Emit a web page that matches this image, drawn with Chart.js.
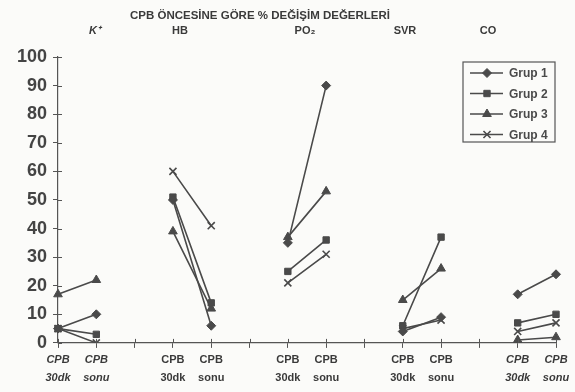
<!DOCTYPE html>
<html>
<head>
<meta charset="utf-8">
<script src="https://cdn.jsdelivr.net/npm/chart.js@4.4.1/dist/chart.umd.min.js"></script>
<style>
  html, body { margin: 0; padding: 0; background: #fbfbf9; }
  #wrap { width: 575px; height: 392px; }
</style>
</head>
<body>
<div id="wrap"><canvas id="myChart"></canvas></div>
<script>
// categories: 5 parameter groups, two time points each, empty slot between groups
var labels = [
  ['CPB', '30dk'], ['CPB', 'sonu'], '',
  ['CPB', '30dk'], ['CPB', 'sonu'], '',
  ['CPB', '30dk'], ['CPB', 'sonu'], '',
  ['CPB', '30dk'], ['CPB', 'sonu'], '',
  ['CPB', '30dk'], ['CPB', 'sonu']
];
var groupNames = ['K\u207A', 'HB', 'PO\u2082', 'SVR', 'CO'];
var yTicks = [0, 10, 20, 30, 40, 50, 60, 70, 80, 90, 100];

//            K+         HB            PO2           SVR          CO
var grup1 = [5, 10, null, 50, 6, null, 35, 90, null, 4, 9, null, 17, 24];
var grup2 = [5, 3, null, 51, 14, null, 25, 36, null, 6, 37, null, 7, 10];
var grup3 = [17, 22, null, 39, 12, null, 37, 53, null, 15, 26, null, 1, 2];
var grup4 = [5, 0, null, 60, 41, null, 21, 31, null, 5, 8, null, 4, 7];

var ink = '#4a4a4a';

function ds(label, data, style, r) {
  return {
    label: label,
    data: data,
    borderColor: ink,
    backgroundColor: ink,
    borderWidth: 1.6,
    pointStyle: style,
    pointRadius: r,
    pointBorderColor: ink,
    pointBackgroundColor: ink,
    pointBorderWidth: style === 'crossRot' ? 1.6 : 1,
    spanGaps: false,
    tension: 0
  };
}

var extras = {
  id: 'extras',
  afterDraw: function(chart) {
    var c = chart.ctx;
    var a = chart.chartArea;
    c.save();

    // ticks crossing the axes, like the original
    c.strokeStyle = '#555';
    c.lineWidth = 1;
    var ys = chart.scales.y, xs = chart.scales.x;
    yTicks.forEach(function(v) {
      var y = Math.round(ys.getPixelForValue(v)) + 0.5;
      c.beginPath(); c.moveTo(a.left, y); c.lineTo(a.left + 4, y); c.stroke();
    });
    labels.forEach(function(l, i) {
      var x = Math.round(xs.getPixelForValue(i)) + 0.5;
      c.beginPath(); c.moveTo(x, a.bottom); c.lineTo(x, a.bottom - 4); c.stroke();
    });

    c.fillStyle = '#3a3a3a';
    c.textAlign = 'center';
    c.textBaseline = 'middle';
    c.font = 'bold 11.5px "Liberation Sans", Arial, sans-serif';
    c.fillText('CPB ÖNCESİNE GÖRE % DEĞİŞİM DEĞERLERİ', 260, 16);
    var gx = [95, 180, 305, 405, 488];
    groupNames.forEach(function(n, i) {
      c.font = (i === 0 ? 'italic ' : '') + 'bold 11px "Liberation Sans", Arial, sans-serif';
      c.fillText(n, gx[i], 31);
    });

    // legend box
    var bx = 463, by = 62, bw = 92, bh = 80;
    c.strokeStyle = '#555';
    c.lineWidth = 1.2;
    c.fillStyle = '#fbfbf9';
    c.fillRect(bx, by, bw, bh);
    c.strokeRect(bx, by, bw, bh);
    c.textAlign = 'left';
    c.font = 'bold 12px "Liberation Sans", Arial, sans-serif';
    chart.data.datasets.forEach(function(d, i) {
      var y = 73 + i * 20.5;
      c.strokeStyle = ink;
      c.fillStyle = ink;
      c.lineWidth = 1.6;
      c.beginPath();
      c.moveTo(bx + 7, y);
      c.lineTo(bx + 40, y);
      c.stroke();
      c.lineWidth = d.pointBorderWidth;
      Chart.helpers.drawPoint(c, {
        pointStyle: d.pointStyle, radius: d.pointRadius, borderWidth: d.pointBorderWidth
      }, bx + 24, y);
      c.fillStyle = ink;
      c.fillText(d.label, bx + 46, y + 1);
    });
    c.restore();
  }
};

var ctx = document.getElementById('myChart').getContext('2d');
var chart = new Chart(ctx, {
  type: 'line',
  data: {
    labels: labels,
    datasets: [
      ds('Grup 1', grup1, 'rectRot', 4.5),
      ds('Grup 2', grup2, 'rect', 4.5),
      ds('Grup 3', grup3, 'triangle', 5),
      ds('Grup 4', grup4, 'crossRot', 5)
    ]
  },
  options: {
    responsive: true,
    maintainAspectRatio: false,
    animation: false,
    layout: { padding: { top: 57, right: 19, left: 0, bottom: 2 } },
    plugins: {
      legend: { display: false },
      tooltip: { enabled: false }
    },
    scales: {
      x: {
        offset: false,
        grid: { drawOnChartArea: false, tickLength: 5, color: '#555', lineWidth: 1 },
        border: { color: '#555', width: 1.2 },
        ticks: {
          autoSkip: false,
          maxRotation: 0,
          padding: 4,
          color: '#3a3a3a',
          font: function(context) {
            var i = context.index;
            var it = (i <= 1 || i >= 12);
            return { family: '"Liberation Sans", Arial, sans-serif', size: 11, weight: 'bold', style: it ? 'italic' : 'normal', lineHeight: 1.55 };
          }
        }
      },
      y: {
        min: 0,
        max: 100,
        afterFit: function(s) { s.width = 58; },
        afterBuildTicks: function(s) { s.ticks = yTicks.map(function(v) { return { value: v }; }); },
        grid: { drawOnChartArea: false, tickLength: 5, color: '#555', lineWidth: 1 },
        border: { color: '#555', width: 1.2 },
        ticks: {
          padding: 6,
          color: '#444',
          font: { family: '"Liberation Sans", Arial, sans-serif', size: 18, weight: 'bold' }
        }
      }
    }
  },
  plugins: [extras]
});
</script>
</body>
</html>
